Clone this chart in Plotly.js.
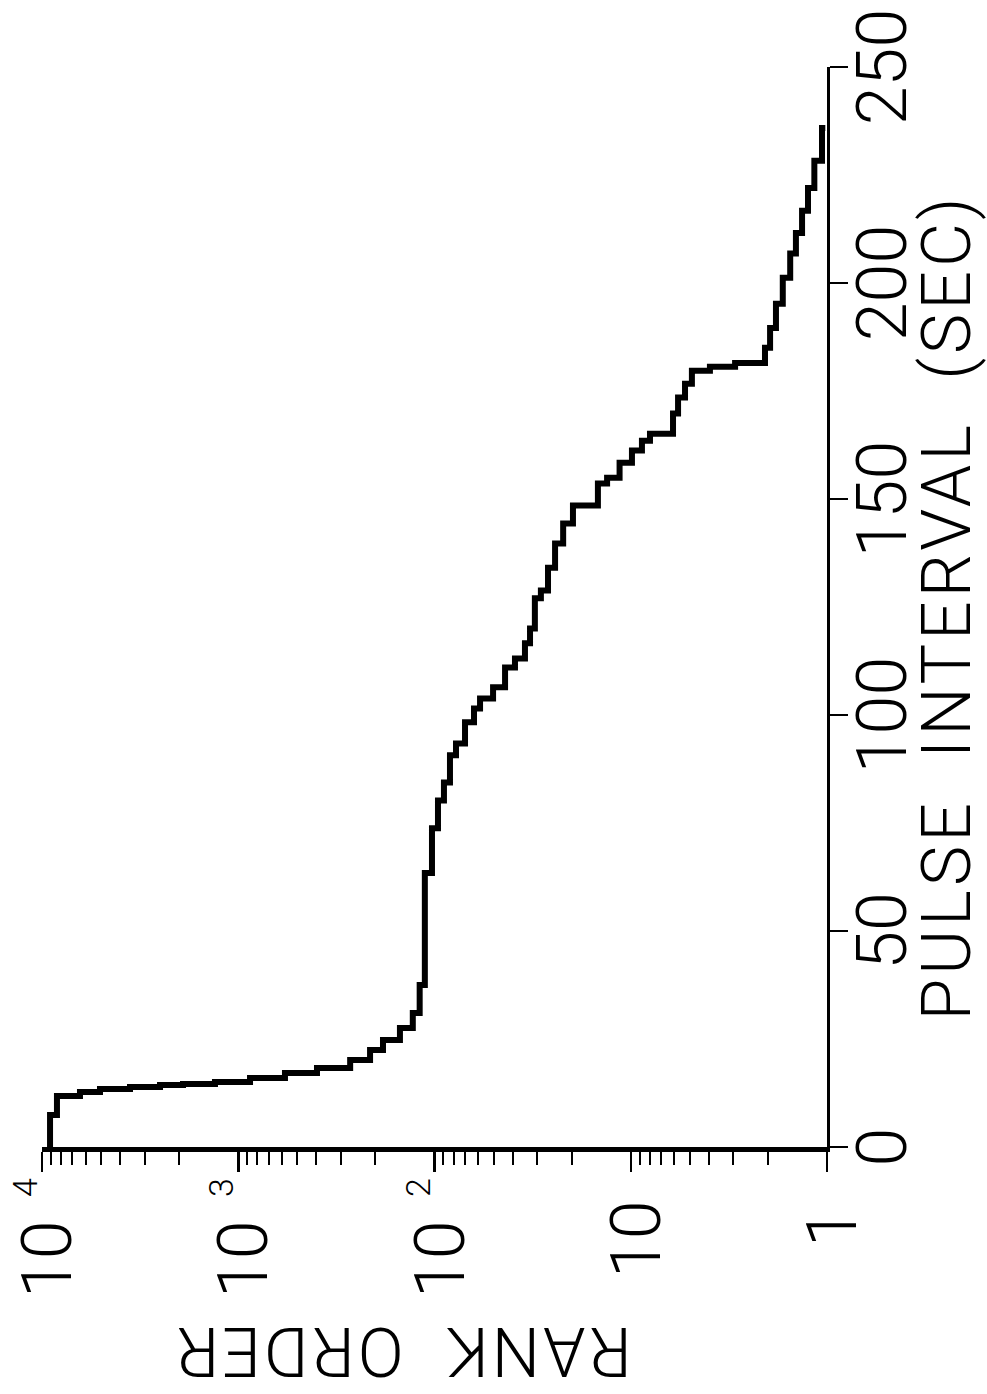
<!DOCTYPE html>
<html>
<head>
<meta charset="utf-8">
<script src="https://cdn.plot.ly/plotly-3.0.1.min.js"></script>
<style>
  html, body { margin:0; padding:0; background:#fff; }
  body { width:987px; height:1394px; overflow:hidden; position:relative; }
  #wrap { position:absolute; left:0; top:0; width:1394px; height:987px;
          transform-origin:0 0; transform:translate(0px,1394px) rotate(-90deg); }
  #chart { width:1394px; height:987px; }
  .xtitle { letter-spacing: 4px; }
  .annotation[data-index="8"] text { letter-spacing: 3px; }
</style>
</head>
<body>
<div id="wrap"><div id="chart"></div></div>
<script>
// ---- data ----
const pulseInterval = [0, 7.4, 11.79, 12.72, 13.41, 13.88, 14.34, 14.57, 15.03, 15.96, 17.11, 18.27,
  20.12, 22.43, 24.75, 27.52, 31.0, 37.5,
  63.4, 73.8, 80.2, 84.4, 90.7, 93.4, 98.3, 101.5, 103.8, 106.4, 111.0, 113.1, 116.6, 120.0,
  127.0, 128.8, 134.1, 139.7, 144.3, 148.5, 153.6, 154.9, 158.4, 161.2, 163.5, 165.1, 169.8,
  173.5, 176.7, 179.7, 180.6, 181.5, 185.0, 189.6, 195.2, 201.2, 206.8, 211.6, 216.7, 222.0,
  228.3, 235.9];
const rankOrder = [9100, 8390, 6404, 5064, 3561, 2504, 1912, 1314, 871, 578, 397, 269,
  213, 183, 150, 129, 119, 112,
  103, 96, 89.5, 83.4, 77.7, 69.9, 62.9, 58.6, 50.3, 43.7, 38.9, 34.6, 32.6, 30.8,
  28.7, 26.4, 24.3, 22.1, 19.7, 14.7, 13.2, 11.4, 9.86, 8.77, 7.98, 6.09, 5.74,
  5.29, 4.88, 3.95, 2.94, 2.07, 1.95, 1.82, 1.68, 1.54, 1.44, 1.34, 1.25, 1.16,
  1.06, 1.02];

const intervalTicks = [0, 50, 100, 150, 200, 250];
const rankTickVals = [10000, 1000, 100, 10, 1];
const rankTickBase = ['10', '10', '10', '10', '1'];
const rankTickExp  = ['4', '3', '2', '', ''];
const xTitle = 'PULSE\u00a0\u00a0INTERVAL\u00a0\u00a0(SEC)';
const yTitle = 'RANK\u00a0\u00a0ORDER';

// minor ticks 2..9 of every decade
const rankMinor = [];
for (let d = 0; d < 4; d++) for (let k = 2; k <= 9; k++) rankMinor.push(k * Math.pow(10, d));

const FONT = 'Roboto, Liberation Sans, Arial, sans-serif';
const W = 300;

const trace = {
  x: pulseInterval, y: rankOrder, type: 'scatter', mode: 'lines',
  line: { color: '#000', width: 6, shape: 'hv' }, hoverinfo: 'skip'
};

const annotations = [];
rankTickVals.forEach((v, i) => {
  const hasExp = rankTickExp[i] !== '';
  const base = rankTickBase[i];
  const shiftX = hasExp ? -71 : (base === '1' ? -59 : -51);
  annotations.push({
    xref: 'paper', yref: 'y', x: 0, y: Math.log10(v), xanchor: 'right', yanchor: 'middle',
    xshift: shiftX, yshift: -5, showarrow: false, text: base,
    font: { family: FONT, size: 70, color: '#000', weight: W }
  });
  if (hasExp) annotations.push({
    xref: 'paper', yref: 'y', x: 0, y: Math.log10(v), xanchor: 'right', yanchor: 'middle',
    xshift: -29, yshift: 17, showarrow: false, text: rankTickExp[i],
    font: { family: FONT, size: 34, color: '#000', weight: W }
  });
});
annotations.push({
  xref: 'paper', yref: 'paper', x: 0, y: 0.541, xanchor: 'center', yanchor: 'middle',
  xshift: -204, textangle: -90, showarrow: false, text: yTitle,
  font: { family: FONT, size: 68, color: '#000', weight: W }
});

const layout = {
  width: 1394, height: 987,
  margin: { l: 247, r: 67, t: 42, b: 160 },
  paper_bgcolor: '#fff', plot_bgcolor: '#fff',
  showlegend: false,
  font: { family: FONT, color: '#000' },
  xaxis: {
    range: [0, 250], tickmode: 'array', tickvals: intervalTicks,
    ticks: 'outside', ticklen: 18, tickwidth: 2, tickcolor: '#000',
    ticklabelstandoff: -26,
    showline: true, linewidth: 3, linecolor: '#000',
    showgrid: false, zeroline: false,
    tickfont: { family: FONT, size: 70, color: '#000', weight: W },
    title: { text: xTitle, font: { family: FONT, size: 68, color: '#000', weight: W }, standoff: 30 },
    automargin: false
  },
  yaxis: {
    type: 'log', range: [0, 4], tickmode: 'array', tickvals: rankTickVals,
    ticks: 'outside', ticklen: 20, tickwidth: 2.5, tickcolor: '#000',
    showticklabels: false,
    minor: { tickmode: 'array', tickvals: rankMinor, ticks: 'outside', ticklen: 13, tickwidth: 2, tickcolor: '#000', showgrid: false },
    showline: true, linewidth: 5, linecolor: '#000',
    showgrid: false, zeroline: false, automargin: false
  },
  shapes: [{
    type: 'line', xref: 'x', yref: 'y',
    x0: 0, x1: Math.max(...pulseInterval), y0: 0, y1: 0,
    line: { color: '#000', width: 8 }
  }],
  annotations: annotations
};

Plotly.newPlot('chart', [trace], layout, { displayModeBar: false, staticPlot: true });
</script>
</body>
</html>
